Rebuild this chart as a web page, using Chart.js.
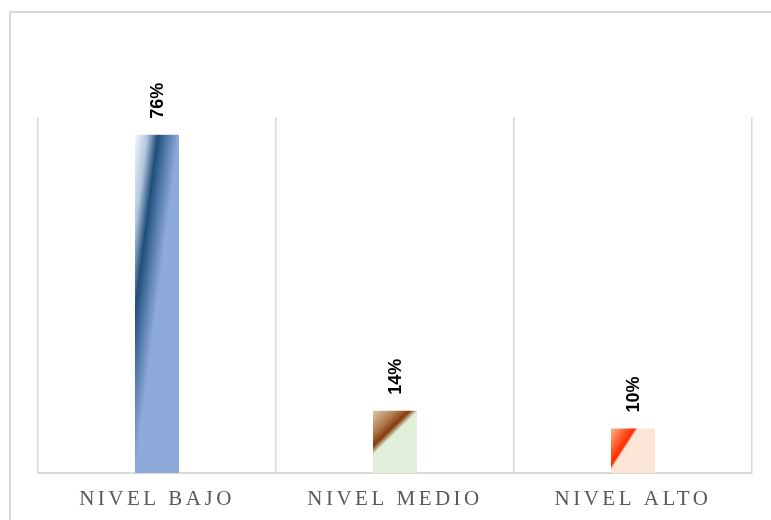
<!DOCTYPE html>
<html>
<head>
<meta charset="utf-8">
<script src="https://cdn.jsdelivr.net/npm/chart.js@4"></script>
<style>
  html, body { margin: 0; padding: 0; background: #ffffff; }
  #wrap { position: relative; width: 771px; height: 520px; overflow: hidden; }
  #frame { position: absolute; left: 9px; top: 11px; width: 800px; height: 600px;
           border: 2px solid #d9d9d9; box-sizing: border-box; }
  canvas { position: absolute; left: 0; top: 0; }
</style>
</head>
<body>
<div id="wrap">
  <div id="frame"></div>
  <canvas id="barChart" width="771" height="520"></canvas>
</div>
<script>
// datos del grafico
const categorias = ['NIVEL BAJO', 'NIVEL MEDIO', 'NIVEL ALTO'];
const porcentajes = [76, 14, 10];
const ejeMax = 80;

const anchoBarra = 0.185;

// degradados de cada barra: direccion y paradas [posicion, color]
const degradados = [
  { ang: [169, 22], stops: [[0, '#f2f6fb'], [0.14, '#b3c7e0'], [0.26, '#1f4e79'], [0.36, '#4f76a8'], [0.5, '#8eaadb'], [1, '#8eaadb']] },
  { ang: [36, 37],  stops: [[0, '#e0c9b0'], [0.22, '#b07a4c'], [0.34, '#843c0c'], [0.42, '#e2efda'], [1, '#e2efda']] },
  { ang: [34, 22],  stops: [[0, '#f6b98f'], [0.25, '#ff4a1a'], [0.33, '#ff2a00'], [0.37, '#fbe5d6'], [1, '#fbe5d6']] }
];

// crea el degradado diagonal a partir de las escalas
function colorBarra(context) {
  const chart = context.chart;
  const i = context.dataIndex;
  const g = degradados[i];
  if (!chart.chartArea || !chart.scales.x || !g) return '#8eaadb';
  const xs = chart.scales.x, ys = chart.scales.y;
  const cx = xs.getPixelForValue(i);
  const w = xs.width / categorias.length * anchoBarra;
  const top = ys.getPixelForValue(porcentajes[i]);
  const base = ys.getPixelForValue(0);
  const len = Math.hypot(g.ang[0], g.ang[1]);
  const ux = g.ang[0] / len, uy = g.ang[1] / len;
  const corners = [[cx - w / 2, top], [cx + w / 2, top], [cx - w / 2, base], [cx + w / 2, base]];
  const proj = corners.map(c => c[0] * ux + c[1] * uy);
  const s0 = Math.min(...proj), s1 = Math.max(...proj);
  const grad = chart.ctx.createLinearGradient(s0 * ux, s0 * uy, s1 * ux, s1 * uy);
  g.stops.forEach(s => grad.addColorStop(s[0], s[1]));
  return grad;
}

// etiquetas verticales encima de cada barra
const labelPlugin = {
  id: 'rotLabels',
  afterDatasetsDraw(chart) {
    const ctx = chart.ctx;
    const meta = chart.getDatasetMeta(0);
    ctx.save();
    ctx.letterSpacing = '0px';
    ctx.fillStyle = '#000000';
    ctx.font = 'bold 18px "Liberation Sans", Arial, sans-serif';
    ctx.textAlign = 'left';
    ctx.textBaseline = 'middle';
    meta.data.forEach((bar, i) => {
      ctx.save();
      ctx.translate(bar.x + 1, bar.y - 16);
      ctx.rotate(-Math.PI / 2);
      ctx.fillText(porcentajes[i] + '%', 0, 0);
      ctx.restore();
    });
    ctx.restore();
  }
};

// espaciado de letras para las categorias
const spacingPlugin = {
  id: 'tickSpacing',
  beforeDraw(chart) {
    chart.ctx.letterSpacing = '3.5px';
  },
  beforeDatasetsDraw(chart) {
    chart.ctx.letterSpacing = '0px';
  }
};

const ctxBar = document.getElementById('barChart').getContext('2d');
const barChart = new Chart(ctxBar, {
  type: 'bar',
  data: {
    labels: categorias,
    datasets: [{
      label: 'Nivel',
      data: porcentajes,
      backgroundColor: colorBarra,
      borderWidth: 0,
      barPercentage: anchoBarra,
      categoryPercentage: 1
    }]
  },
  options: {
    responsive: false,
    animation: false,
    layout: {
      padding: { left: 38, right: 19, top: 117, bottom: 10 }
    },
    plugins: {
      legend: { display: false },
      tooltip: { enabled: false }
    },
    scales: {
      x: {
        afterFit(scale) { scale.height = 37; },
        grid: {
          display: true,
          offset: true,
          color: '#d9d9d9',
          lineWidth: 1.5,
          drawTicks: false
        },
        border: { display: true, color: '#d9d9d9', width: 2 },
        ticks: {
          color: '#595959',
          padding: 14,
          font: { family: '"Liberation Serif", "Times New Roman", serif', size: 21 }
        }
      },
      y: {
        display: false,
        min: 0,
        max: ejeMax
      }
    }
  },
  plugins: [spacingPlugin, labelPlugin]
});
</script>
</body>
</html>
